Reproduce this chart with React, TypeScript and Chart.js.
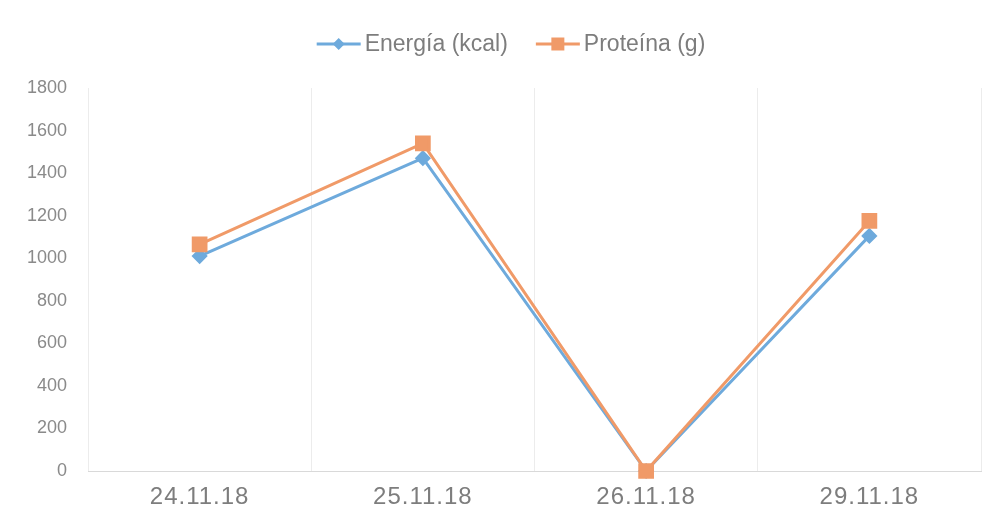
import React, { useEffect, useRef } from "react";
import { Chart, registerables } from "chart.js";

Chart.register(...registerables);

const categories = ["24.11.18", "25.11.18", "26.11.18", "29.11.18"];
const energiaValues = [1010, 1470, 0, 1105];
const proteinaValues = [1065, 1540, 0, 1175];
const seriesLabels = ["Energía (kcal)", "Proteína (g)"];
const yTicks = [0, 200, 400, 600, 800, 1000, 1200, 1400, 1600, 1800];

const BLUE = "#6eaadc";
const ORANGE = "#f09a68";

const topLegend = {
  id: "topLegend",
  afterDraw(chart: any) {
    const ctx = chart.ctx as CanvasRenderingContext2D;
    const font = "23px 'Liberation Sans', Arial, sans-serif";
    const lineLen = 44;
    const textGap = 4;
    const itemGap = 28;
    const cy = 44;
    ctx.save();
    ctx.font = font;
    const items = chart.data.datasets.map((ds: any) => ({
      ds,
      w: lineLen + textGap + ctx.measureText(ds.label).width,
    }));
    const total = items.reduce((s: number, it: any) => s + it.w, 0) + itemGap * (items.length - 1);
    let x = chart.width / 2 + 14 - total / 2;
    items.forEach((it: any) => {
      const ds = it.ds;
      ctx.strokeStyle = ds.borderColor;
      ctx.lineWidth = 3;
      ctx.beginPath();
      ctx.moveTo(x, cy);
      ctx.lineTo(x + lineLen, cy);
      ctx.stroke();
      ctx.fillStyle = ds.pointBackgroundColor;
      const mx = x + lineLen / 2;
      ctx.beginPath();
      if (ds.pointStyle === "rectRot") {
        const r = 6;
        ctx.moveTo(mx - r, cy);
        ctx.lineTo(mx, cy - r);
        ctx.lineTo(mx + r, cy);
        ctx.lineTo(mx, cy + r);
        ctx.closePath();
      } else {
        const h = 6.5;
        ctx.rect(mx - h, cy - h, 2 * h, 2 * h);
      }
      ctx.fill();
      ctx.fillStyle = "#7d7d7d";
      ctx.textBaseline = "middle";
      ctx.textAlign = "left";
      ctx.fillText(ds.label, x + lineLen + textGap, cy + 1);
      x += it.w + itemGap;
    });
    ctx.restore();
  },
};

export default function App() {
  const canvasRef = useRef<HTMLCanvasElement | null>(null);

  useEffect(() => {
    document.body.style.margin = "0";
    const canvas = canvasRef.current;
    if (!canvas) return;
    const chart = new Chart(canvas, {
      type: "line",
      data: {
        labels: categories,
        datasets: [
          {
            label: seriesLabels[0],
            data: energiaValues,
            borderColor: BLUE,
            backgroundColor: BLUE,
            pointBackgroundColor: BLUE,
            pointBorderColor: BLUE,
            pointStyle: "rectRot",
            pointRadius: 6,
            borderWidth: 3,
            tension: 0,
            order: 2,
            clip: false as any,
          },
          {
            label: seriesLabels[1],
            data: proteinaValues,
            borderColor: ORANGE,
            backgroundColor: ORANGE,
            pointBackgroundColor: ORANGE,
            pointBorderColor: ORANGE,
            pointStyle: "rect",
            pointRadius: 9,
            borderWidth: 3,
            tension: 0,
            order: 1,
            clip: false as any,
          },
        ],
      },
      options: {
        animation: false,
        responsive: true,
        maintainAspectRatio: false,
        layout: { padding: { top: 88, left: 0, right: 13, bottom: 0 } },
        plugins: {
          legend: { display: false },
          tooltip: { enabled: false },
        },
        scales: {
          x: {
            type: "category",
            offset: true,
            afterFit: (scale: any) => {
              scale.height = 47;
            },
            grid: {
              display: true,
              offset: true,
              color: "#ececec",
              drawTicks: false,
              lineWidth: 1,
            },
            border: { display: true, color: "#d9d9d9", width: 1 },
            ticks: {
              color: "#7d7d7d",
              font: { family: "'Liberation Sans', Arial, sans-serif", size: 24 },
              padding: 12,
            },
          },
          y: {
            min: 0,
            max: 1800,
            afterBuildTicks: (scale: any) => {
              scale.ticks = yTicks.map((v) => ({ value: v }));
            },
            afterFit: (scale: any) => {
              scale.width = 88;
            },
            grid: { display: false, drawTicks: false },
            border: { display: false },
            ticks: {
              color: "#8a8a8a",
              font: { family: "'Liberation Sans', Arial, sans-serif", size: 18 },
              padding: 21,
              callback: (value: any) => String(value),
            },
          },
        },
      },
      plugins: [topLegend],
    });

    const xs: any = chart.scales.x;
    if (xs && "letterSpacing" in chart.ctx) {
      const orig = xs.drawLabels.bind(xs);
      xs.drawLabels = (area: any) => {
        const c: any = chart.ctx;
        c.save();
        c.letterSpacing = "1px";
        orig(area);
        c.restore();
      };
      chart.draw();
    }

    return () => {
      chart.destroy();
    };
  }, []);

  return (
    <div style={{ width: "994px", height: "518px", position: "relative" }}>
      <canvas ref={canvasRef} />
    </div>
  );
}
